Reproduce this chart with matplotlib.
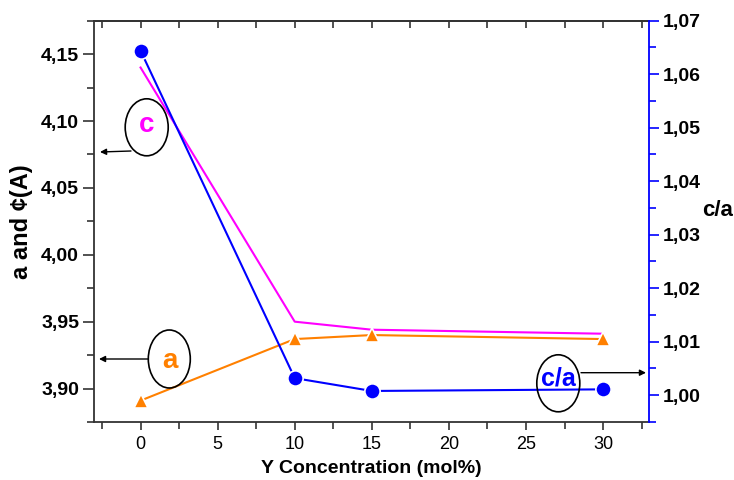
import matplotlib
matplotlib.use("Agg")
import matplotlib.pyplot as plt
from matplotlib.patches import Ellipse
from matplotlib.ticker import MultipleLocator, FuncFormatter

plt.rcParams['font.family'] = ['Liberation Sans', 'DejaVu Sans']

# Data
y_conc = [0, 10, 15, 30]
a_vals = [3.891, 3.937, 3.940, 3.937]
c_vals = [4.140, 3.950, 3.944, 3.941]
ca_vals = [1.0644, 1.0032, 1.0008, 1.0011]

xlim = (-3, 33)
ylim_left = (3.875, 4.175)
ylim_right = (0.995, 1.07)

W, H = 734, 480
fig = plt.figure(figsize=(W / 100, H / 100), dpi=100)
ax = fig.add_axes([94.3 / W, 1 - 422 / H, (649.3 - 94.3) / W, (422 - 20.7) / H])
ax2 = ax.twinx()

MAG = '#FF00FF'
ORA = '#FF8000'
BLU = '#0000FF'
DARK = '#333333'

ax.plot(y_conc, c_vals, color=MAG, lw=1.5, zorder=3)
ax.plot(y_conc, a_vals, color=ORA, lw=1.5, marker='^', ms=10,
        markeredgecolor='white', markeredgewidth=1.2, zorder=4)
ax2.plot(y_conc, ca_vals, color=BLU, lw=1.5, marker='o', ms=11,
         markeredgecolor='white', markeredgewidth=1.2, zorder=4)

ax.set_xlim(*xlim)
ax.set_ylim(*ylim_left)
ax2.set_ylim(*ylim_right)

comma2 = FuncFormatter(lambda v, p: f"{v:.2f}".replace('.', ','))

ax.xaxis.set_major_locator(MultipleLocator(5))
ax.xaxis.set_minor_locator(MultipleLocator(2.5))
ax.yaxis.set_major_locator(MultipleLocator(0.05))
ax.yaxis.set_minor_locator(MultipleLocator(0.025))
ax.yaxis.set_major_formatter(comma2)
ax2.yaxis.set_major_locator(MultipleLocator(0.01))
ax2.yaxis.set_minor_locator(MultipleLocator(0.005))
ax2.yaxis.set_major_formatter(comma2)

for s in ['left', 'bottom', 'top']:
    ax.spines[s].set_color(DARK)
    ax.spines[s].set_linewidth(1.3)
ax.spines['right'].set_visible(False)
for s in ['left', 'bottom', 'top']:
    ax2.spines[s].set_visible(False)
ax2.spines['right'].set_color(BLU)
ax2.spines['right'].set_linewidth(1.3)

ax.tick_params(axis='x', which='both', direction='out', color=DARK, labelsize=13, pad=4)
ax.tick_params(axis='x', which='major', length=6, width=1.2)
ax.tick_params(axis='x', which='minor', length=5, width=1.2)
ax.tick_params(axis='y', which='both', direction='out', color=DARK, labelsize=14, pad=3)
ax.tick_params(axis='y', which='major', length=8, width=1.2)
ax.tick_params(axis='y', which='minor', length=5, width=1.2)
for lab in ax.get_yticklabels():
    lab.set_fontweight('bold')

ax2.tick_params(axis='y', which='both', direction='out', color=BLU, labelcolor='black', labelsize=14, pad=3)
ax2.tick_params(axis='y', which='major', length=7, width=1.2)
ax2.tick_params(axis='y', which='minor', length=5, width=1.2)
for lab in ax2.get_yticklabels():
    lab.set_fontweight('bold')

# top ticks pointing inward
secx = ax.secondary_xaxis('top')
secx.xaxis.set_major_locator(MultipleLocator(5))
secx.xaxis.set_minor_locator(MultipleLocator(2.5))
secx.tick_params(axis='x', which='both', direction='in', length=5, width=1.2, color=DARK, labeltop=False)
secx.spines['top'].set_color(DARK)
secx.spines['top'].set_linewidth(1.3)

ax.set_xlabel('Y Concentration (mol%)', fontsize=14, fontweight='bold', labelpad=5)
ax.set_ylabel('a and ¢(A)', fontsize=17, fontweight='bold', labelpad=6)
fig.text(718 / W, 1 - 210 / H, 'c/a', fontsize=16, fontweight='bold', ha='center', va='center')


def fx(px):
    return px / W


def fy(py):
    return 1 - py / H


def ell(cx, cy, w, h):
    fig.add_artist(Ellipse((fx(cx), fy(cy)), w / W, h / H, transform=fig.transFigure,
                           fill=False, edgecolor='black', lw=1.2))


def arrow(x0, y0, x1, y1):
    ax.annotate('', xy=(fx(x1), fy(y1)), xytext=(fx(x0), fy(y0)),
                xycoords='figure fraction', textcoords='figure fraction',
                arrowprops=dict(arrowstyle='-|>', color='black', lw=1.0, mutation_scale=9,
                                shrinkA=0, shrinkB=0))


ell(146.7, 127.3, 43, 57)
fig.text(fx(146.7), fy(125), 'c', color=MAG, fontsize=20, fontweight='bold', ha='center', va='center')
arrow(131, 151, 100, 152)

ell(169.3, 359, 42, 58)
fig.text(fx(170), fy(361), 'a', color=ORA, fontsize=20, fontweight='bold', ha='center', va='center')
arrow(148, 359, 99, 359)

ell(558.3, 383.3, 43, 57)
fig.text(fx(558), fy(378), 'c/a', color=BLU, fontsize=18, fontweight='bold', ha='center', va='center')
arrow(581, 372.7, 646, 372.7)

fig.savefig('out.png', dpi=100)
